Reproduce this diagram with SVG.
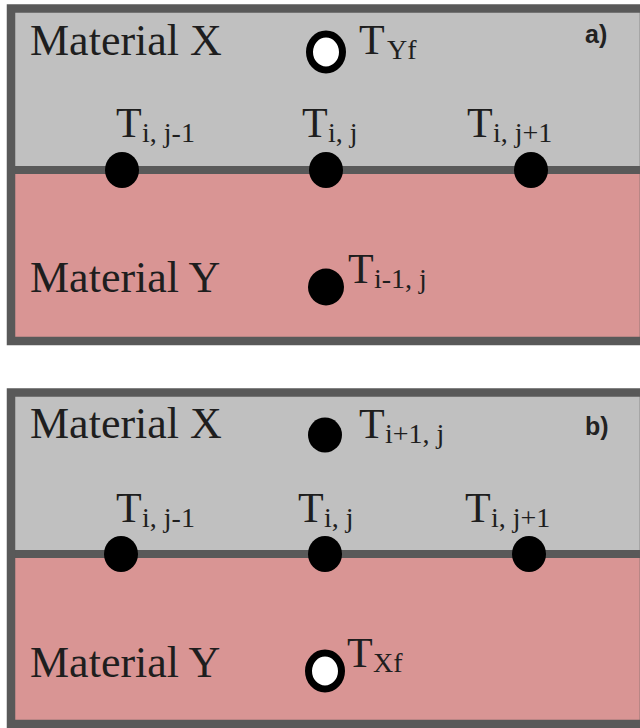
<svg xmlns="http://www.w3.org/2000/svg" width="640" height="728" viewBox="0 0 640 728">
<style>
.gray{fill:#c0c0c0}
.pink{fill:#d99594}
.frame{fill:none;stroke:#595959;stroke-width:8.5}
.iface{stroke:#595959;stroke-width:8}
.mat{font-family:"Liberation Serif","Times New Roman",serif;font-size:44px;fill:#1e1e1e}
.lbl{font-family:"Liberation Serif","Times New Roman",serif;font-size:42px;fill:#1e1e1e}
.sub{font-size:28px}
.tag{font-family:"Liberation Sans",Arial,sans-serif;font-size:25px;font-weight:bold;fill:#222}
.dot{fill:#000}
.open{fill:#fff;stroke:#000;stroke-width:7}
</style>
<rect width="640" height="728" fill="#fff"/>
<g id="panel-a">
  <rect class="gray" x="11" y="8.5" width="633" height="161.5"/>
  <rect class="pink" x="11" y="170" width="633" height="171"/>
  <line class="iface" x1="11" y1="170" x2="644" y2="170"/>
  <rect class="frame" x="11" y="8.5" width="633" height="332.5"/>
  <text class="mat" x="30" y="55">Material X</text>
  <text class="mat" x="30" y="292">Material Y</text>
  <text class="tag" x="585" y="43">a)</text>
  <g id="a-TYf">
    <ellipse class="open" cx="326" cy="52" rx="16.5" ry="18"/>
    <text class="lbl" x="359" y="54">T<tspan class="sub" x="387" y="59">Yf</tspan></text>
  </g>
  <g id="a-Tij-1">
    <ellipse class="dot" cx="122" cy="170" rx="17" ry="18"/>
    <text class="lbl" x="116" y="137">T<tspan class="sub" x="142" y="142">i, j-1</tspan></text>
  </g>
  <g id="a-Tij">
    <ellipse class="dot" cx="326" cy="170" rx="17" ry="18"/>
    <text class="lbl" x="302" y="137">T<tspan class="sub" x="328" y="142">i, j</tspan></text>
  </g>
  <g id="a-Tij+1">
    <ellipse class="dot" cx="531" cy="170" rx="17" ry="18"/>
    <text class="lbl" x="467" y="137">T<tspan class="sub" x="493" y="142">i, j+1</tspan></text>
  </g>
  <g id="a-Ti-1j">
    <ellipse class="dot" cx="326" cy="287" rx="18" ry="18.5"/>
    <text class="lbl" x="348" y="283">T<tspan class="sub" x="374" y="288">i-1, j</tspan></text>
  </g>
</g>
<g id="panel-b">
  <rect class="gray" x="11" y="392.5" width="633" height="161.5"/>
  <rect class="pink" x="11" y="554" width="633" height="170"/>
  <line class="iface" x1="11" y1="554" x2="644" y2="554"/>
  <rect class="frame" x="11" y="392.5" width="633" height="331.5"/>
  <text class="mat" x="30" y="438">Material X</text>
  <text class="mat" x="30" y="677">Material Y</text>
  <text class="tag" x="585" y="435">b)</text>
  <g id="b-Ti+1j">
    <ellipse class="dot" cx="325" cy="435" rx="17" ry="17.5"/>
    <text class="lbl" x="359" y="438">T<tspan class="sub" x="385" y="443">i+1, j</tspan></text>
  </g>
  <g id="b-Tij-1">
    <ellipse class="dot" cx="121" cy="554" rx="17" ry="18"/>
    <text class="lbl" x="116" y="522">T<tspan class="sub" x="142" y="527">i, j-1</tspan></text>
  </g>
  <g id="b-Tij">
    <ellipse class="dot" cx="325" cy="554" rx="17" ry="18"/>
    <text class="lbl" x="298" y="522">T<tspan class="sub" x="324" y="527">i, j</tspan></text>
  </g>
  <g id="b-Tij+1">
    <ellipse class="dot" cx="529" cy="554" rx="17" ry="18"/>
    <text class="lbl" x="465" y="522">T<tspan class="sub" x="491" y="527">i, j+1</tspan></text>
  </g>
  <g id="b-TXf">
    <ellipse class="open" cx="325" cy="671" rx="16.5" ry="18"/>
    <text class="lbl" x="347" y="667">T<tspan class="sub" x="373" y="672">Xf</tspan></text>
  </g>
</g>
<g id="connectors"/>
</svg>
